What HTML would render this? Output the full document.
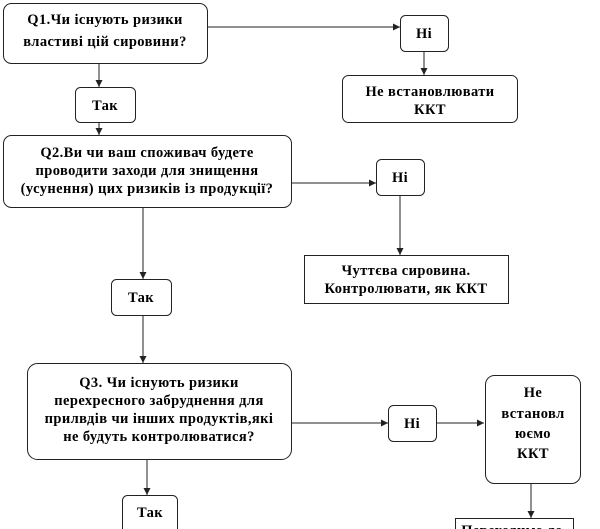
<!DOCTYPE html>
<html><head><meta charset="utf-8"><style>
body{margin:0;background:#fff}
svg{display:block}
text{font-family:"Liberation Serif",serif;font-weight:bold;font-size:14.5px;fill:#000;text-anchor:middle;letter-spacing:0.4px}
rect{fill:#fff;stroke:#222;stroke-width:1}
line{stroke:#222;stroke-width:1}
</style></head><body>
<svg width="600" height="529" viewBox="0 0 600 529" xmlns="http://www.w3.org/2000/svg">
<defs><marker id="a" markerWidth="8" markerHeight="8" refX="7" refY="4" orient="auto" markerUnits="userSpaceOnUse"><path d="M0,0.5 L7,4 L0,7.5 Z" fill="#222"/></marker></defs>

<line x1="207" y1="27" x2="400" y2="27" marker-end="url(#a)"/>
<line x1="424" y1="52" x2="424" y2="75" marker-end="url(#a)"/>
<line x1="99" y1="63" x2="99" y2="87" marker-end="url(#a)"/>
<line x1="99" y1="123" x2="99" y2="135" marker-end="url(#a)"/>
<line x1="291" y1="183" x2="376" y2="183" marker-end="url(#a)"/>
<line x1="400" y1="195" x2="400" y2="255" marker-end="url(#a)"/>
<line x1="143" y1="207" x2="143" y2="279" marker-end="url(#a)"/>
<line x1="143" y1="315" x2="143" y2="363" marker-end="url(#a)"/>
<line x1="291" y1="423" x2="388" y2="423" marker-end="url(#a)"/>
<line x1="436" y1="423" x2="484" y2="423" marker-end="url(#a)"/>
<line x1="147" y1="459" x2="147" y2="495" marker-end="url(#a)"/>
<line x1="531" y1="483" x2="531" y2="518" marker-end="url(#a)"/>

<rect x="3.5" y="3.5" width="204" height="60" rx="8"/>
<text x="105" y="24">Q1.Чи існують  ризики</text>
<text x="105" y="46">властиві цій  сировини?</text>

<rect x="400.5" y="15.5" width="48" height="36" rx="5"/>
<text x="424" y="38">Ні</text>

<rect x="342.5" y="75.5" width="175" height="47" rx="6"/>
<text x="430" y="96">Не встановлювати</text>
<text x="430" y="114">ККТ</text>

<rect x="75.5" y="87.5" width="60" height="35" rx="5"/>
<text x="105" y="110">Так</text>

<rect x="3.5" y="135.5" width="288" height="72" rx="8"/>
<text x="147" y="157">Q2.Ви чи ваш споживач будете</text>
<text x="147" y="175">проводити заходи для знищення</text>
<text x="147" y="193">(усунення) цих ризиків  із  продукції?</text>

<rect x="376.5" y="159.5" width="48" height="36" rx="5"/>
<text x="400" y="182">Ні</text>

<rect x="304.5" y="255.5" width="204" height="48"/>
<text x="406" y="275">Чуттєва сировина.</text>
<text x="406" y="293">Контролювати, як ККТ</text>

<rect x="111.5" y="279.5" width="60" height="36" rx="5"/>
<text x="141" y="302">Так</text>

<rect x="27.5" y="363.5" width="264" height="96" rx="10"/>
<text x="159" y="387">Q3. Чи існують  ризики</text>
<text x="159" y="405">перехресного забруднення для</text>
<text x="159" y="423">прилвдів чи інших  продуктів,які</text>
<text x="159" y="441">не будуть  контролюватися?</text>

<rect x="388.5" y="405.5" width="48" height="36" rx="5"/>
<text x="412" y="428">Ні</text>

<rect x="485.5" y="375.5" width="95" height="108" rx="9"/>
<text x="533" y="397">Не</text>
<text x="533" y="418">встановл</text>
<text x="533" y="438">юємо</text>
<text x="533" y="458">ККТ</text>

<rect x="122.5" y="495.5" width="55" height="40" rx="5"/>
<text x="150" y="517">Так</text>

<rect x="455.5" y="518.5" width="118" height="20"/>
<text x="512" y="535">Переходимо до</text>
</svg>
</body></html>
